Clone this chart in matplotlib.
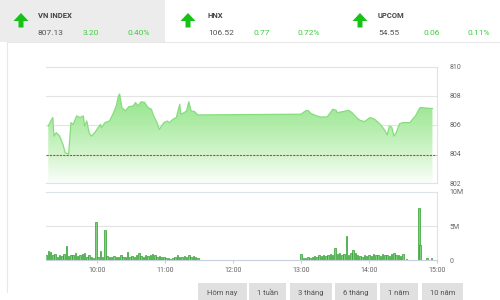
import numpy as np
import matplotlib
matplotlib.use("Agg")
import matplotlib.pyplot as plt
from matplotlib.patches import Rectangle, Polygon
from matplotlib.colors import LinearSegmentedColormap

plt.rcParams['font.family'] = ['Roboto', 'DejaVu Sans']

# ---- data ----
index_names = ["VN INDEX", "HNX", "UPCOM"]
index_values = ["807.13", "106.52", "54.55"]
index_changes = ["3.20", "0.77", "0.06"]
index_pcts = ["0.40%", "0.72%", "0.11%"]

ref_price = 803.93

price_times = ["09:17", "09:20", "09:21", "09:22", "09:24", "09:27", "09:30", "09:32", "09:35", "09:37",
               "09:39", "09:42", "09:45", "09:48", "09:49", "09:51", "09:53", "09:55", "09:58", "10:03",
               "10:04", "10:07", "10:11", "10:14", "10:17", "10:19", "10:20", "10:22", "10:25", "10:28",
               "10:32", "10:34", "10:36", "10:39", "10:42", "10:45", "10:48", "10:50", "10:53", "10:55",
               "10:59", "11:02", "11:04", "11:07", "11:10", "11:13", "11:14", "11:17", "11:19", "11:21",
               "11:23", "11:26", "11:29", "13:00", "13:04", "13:06", "13:09", "13:14", "13:17", "13:23",
               "13:26", "13:28", "13:31", "13:32", "13:37", "13:42", "13:45", "13:49", "13:52", "13:56",
               "14:01", "14:05", "14:10", "14:14", "14:16", "14:18", "14:20", "14:22", "14:24", "14:27",
               "14:30", "14:36", "14:41", "14:45", "14:56"]
price_vals = [805.92, 806.39, 806.51, 805.23, 805.47, 805.23, 804.65, 804.07, 804.00, 806.16,
              806.04, 806.62, 806.51, 806.62, 805.92, 806.27, 805.47, 805.23, 805.47, 806.04,
              805.81, 806.16, 806.27, 806.74, 807.31, 808.01, 808.13, 807.20, 806.97, 807.25,
              807.31, 807.55, 807.31, 807.60, 807.55, 807.20, 807.08, 806.62, 806.16, 805.69,
              806.16, 806.27, 806.16, 806.39, 806.51, 807.43, 806.74, 806.85, 806.97, 807.60,
              806.97, 806.92, 806.69, 806.74, 806.97, 807.01, 806.78, 806.62, 806.55, 806.55,
              806.85, 807.08, 807.01, 806.85, 806.92, 807.01, 806.85, 806.51, 806.32, 806.23,
              806.51, 806.39, 806.04, 805.63, 805.30, 805.92, 805.85, 805.23, 805.47, 806.09,
              806.16, 806.16, 806.62, 807.20, 807.13]

# volume (million shares), 2-minute buckets
vol_am_start = "09:15"
vol_am = [0.8, 1.3, 1.2, 0.7, 0.9, 0.5, 0.8, 0.6, 0.9, 2.0,
          0.6, 0.8, 0.7, 1.0, 0.6, 0.8, 0.9, 1.1, 0.5, 0.7,
          0.4, 0.3, 5.6, 0.5, 1.3, 0.5, 4.4, 0.6, 0.5, 0.4,
          0.6, 0.4, 0.5, 0.7, 0.4, 0.5, 1.2, 0.5, 0.6, 0.4,
          0.7, 1.1, 0.6, 0.5, 0.7, 0.6, 0.8, 0.9, 0.7, 0.5,
          0.6, 0.4, 0.5, 0.3, 0.3, 0.2, 0.3, 0.4, 0.7, 0.5,
          0.4, 0.6, 0.5, 0.7, 0.4, 0.6, 0.5, 0.3]
vol_pm_start = "13:00"
vol_pm = [0.9, 0.3, 0.3, 0.4, 0.3, 0.5, 0.6, 0.5, 0.7, 0.6,
          0.8, 0.6, 0.7, 0.9, 0.8, 1.7, 0.9, 1.0, 0.7, 0.9,
          3.5, 0.8, 1.0, 1.4, 1.1, 0.8, 0.6, 0.5, 0.7, 0.6,
          0.8, 0.6, 0.9, 0.7, 0.8, 0.6, 0.9, 0.7, 0.8, 0.6,
          0.9, 1.0, 0.7, 0.8, 0.6, 0.9]
vol_late_times = ["14:33", "14:44", "14:45", "14:51", "14:55"]
vol_late = [0.2, 7.6, 2.2, 0.3, 0.3]

time_ticks = ["10:00", "11:00", "12:00", "13:00", "14:00", "15:00"]
price_ticks = [802, 804, 806, 808, 810]
vol_ticks = [0, 5, 10]
vol_tick_labels = ["0", "5M", "10M"]
buttons = ["Hôm nay", "1 tuần", "3 tháng", "6 tháng", "1 năm", "10 năm"]


def to_h(s):
    h, m = s.split(":")
    return int(h) + int(m) / 60.0


t_price = np.array([to_h(s) for s in price_times])
p = np.array(price_vals)
t_am = to_h(vol_am_start) + np.arange(len(vol_am)) * 2 / 60.0
t_pm = to_h(vol_pm_start) + np.arange(len(vol_pm)) * 2 / 60.0
t_vol = np.concatenate([t_am, t_pm, [to_h(s) for s in vol_late_times]])
v = np.array(vol_am + vol_pm + vol_late)

x0, x1 = to_h("09:15"), to_h("15:00")
grid_c = "#e3e3e3"
lab_c = "#666666"
green = "#3ccf3c"

fig = plt.figure(figsize=(5, 3), dpi=100)

# ---- decoration layer in pixel coordinates ----
deco = fig.add_axes([0, 0, 1, 1])
deco.set_xlim(0, 500)
deco.set_ylim(300, 0)
deco.axis("off")
deco.add_patch(Rectangle((0, 0), 165, 42, color="#ececec", lw=0))
deco.plot([7, 7], [42, 292], color="#e8e8e8", lw=0.8)
deco.plot([7, 500], [42, 42], color="#e8e8e8", lw=0.8)

arrow_x = [21, 188, 360]
label_x = [38, 208, 378]
chg_x = [83, 253, 423]
pct_x = [127, 297, 467]
for i in range(3):
    ax_ = arrow_x[i]
    deco.add_patch(Polygon([(ax_, 13), (ax_ - 7.5, 21), (ax_ - 2.5, 21), (ax_ - 2.5, 27.5),
                            (ax_ + 2.5, 27.5), (ax_ + 2.5, 21), (ax_ + 7.5, 21)],
                           closed=True, color="#17c217", lw=0))
    deco.text(label_x[i], 15, index_names[i], fontsize=5.5, fontweight="bold", color="#444444", va="center")
    deco.text(label_x[i], 33, index_values[i], fontsize=6, color="#555555", va="center")
    deco.text(chg_x[i], 33, index_changes[i], fontsize=6, color=green, va="center")
    deco.text(pct_x[i], 33, index_pcts[i], fontsize=6, color=green, va="center")

btn_x = [198, 249, 290, 335, 380, 422]
btn_w = [49, 37, 42, 42, 38, 41]
for bx, bw, name in zip(btn_x, btn_w, buttons):
    deco.add_patch(Rectangle((bx, 283), bw, 18, color="#e0e0e0", lw=0))
    deco.text(bx + bw / 2, 293, name, fontsize=5.5, color="#555555", ha="center", va="center")

# ---- price panel ----
ax = fig.add_axes([0.092, 0.39, 0.782, 0.387])
ax.patch.set_alpha(0)
ax.set_xlim(x0, x1)
ax.set_ylim(802, 810)
for y in [806, 808]:
    ax.axhline(y, color=grid_c, lw=0.8, zorder=0)

fill = ax.fill_between(t_price, p, 802, color="none", lw=0)
grad = np.linspace(0, 1, 256).reshape(-1, 1)
cmap = LinearSegmentedColormap.from_list("g", ["#fbfefb", "#d2f5cc", "#b0eca8", "#94e38c"])
img = ax.imshow(grad, cmap=cmap, aspect="auto", origin="lower",
                extent=[x0, x1, 802, p.max()], zorder=1)
img.set_clip_path(fill.get_paths()[0], transform=ax.transData)
ax.plot(t_price, p, color="#86dd7e", lw=0.9, zorder=2)
ax.axhline(ref_price, color="#e53030", lw=0.8, ls=(0, (2, 1)), zorder=3)

ax.set_xticks([])
ax.yaxis.tick_right()
ax.set_yticks(price_ticks)
ax.set_yticklabels([str(t) for t in price_ticks])
ax.tick_params(axis="y", length=0, pad=9, labelsize=5, labelcolor=lab_c)
ax.spines["left"].set_visible(False)
for s in ["top", "right", "bottom"]:
    ax.spines[s].set_color("#dde3ea")
    ax.spines[s].set_linewidth(0.8)

# ---- volume panel ----
axv = fig.add_axes([0.092, 0.1333, 0.782, 0.2267])
axv.patch.set_alpha(0)
axv.set_xlim(x0, x1)
axv.set_ylim(0, 10)
axv.axhline(5, color=grid_c, lw=0.8, zorder=0)
axv.bar(t_vol, v, width=1.3 / 60, color="#7fd07a", edgecolor="#2f9e2f", lw=0.5, align="center", zorder=2)
axv.yaxis.tick_right()
axv.set_yticks(vol_ticks)
axv.set_yticklabels(vol_tick_labels)
axv.set_xticks([to_h(s) for s in time_ticks])
axv.set_xticklabels(time_ticks)
axv.tick_params(axis="y", length=0, pad=9, labelsize=5, labelcolor=lab_c)
axv.tick_params(axis="x", length=2, pad=3, labelsize=5, labelcolor=lab_c, color="#c8d0dc")
axv.spines["left"].set_visible(False)
for s in ["top", "right", "bottom"]:
    axv.spines[s].set_color("#dde3ea")
    axv.spines[s].set_linewidth(0.8)
axv.spines["bottom"].set_color("#c8d0dc")

fig.savefig("out.png", dpi=100)
